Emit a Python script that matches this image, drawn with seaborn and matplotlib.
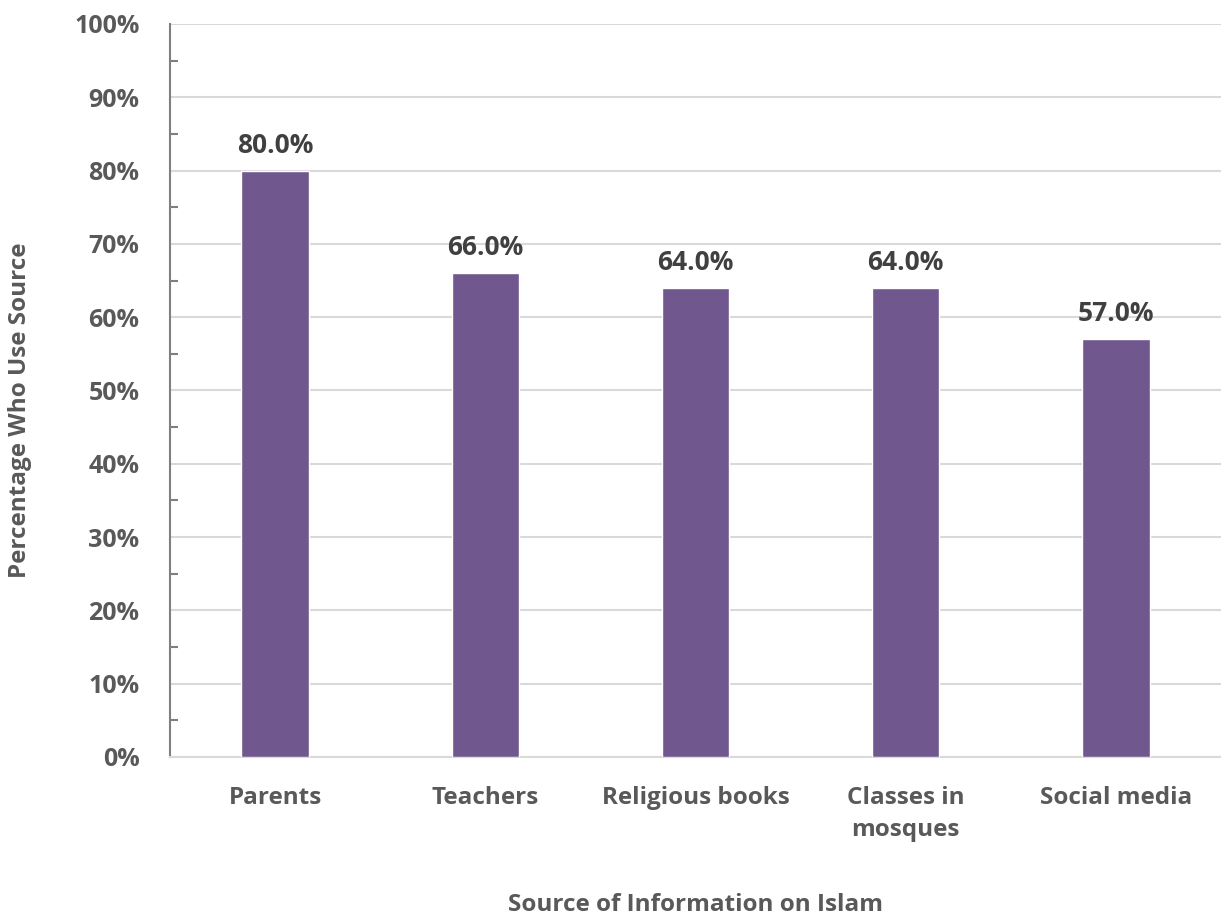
import matplotlib
matplotlib.use("Agg")
import matplotlib.pyplot as plt
import seaborn as sns
import pandas as pd
from matplotlib.ticker import MultipleLocator, FuncFormatter

categories = ["Parents", "Teachers", "Religious books", "Classes in\nmosques", "Social media"]
percentages = [80.0, 66.0, 64.0, 64.0, 57.0]

sns.set_theme(style="white")
plt.rcParams["font.family"] = ["Open Sans", "DejaVu Sans"]

df = pd.DataFrame({"source": categories, "pct": percentages})

fig = plt.figure(figsize=(12.21, 9.15), dpi=100)
ax = fig.add_axes([0.1392, 0.1727, 0.8608, 0.8011])

sns.barplot(data=df, x="source", y="pct", color="#70588E", width=0.32,
            saturation=1, ax=ax, zorder=3)

ax.set_ylim(0, 100)
ax.set_xlim(-0.5, len(categories) - 0.5)
ax.yaxis.set_major_locator(MultipleLocator(10))
ax.yaxis.set_minor_locator(MultipleLocator(5))
ax.yaxis.set_major_formatter(FuncFormatter(lambda v, _: f"{v:.0f}%"))
ax.grid(axis="y", which="major", color="#D9D9D9", linewidth=1.5, zorder=0)
ax.set_axisbelow(True)

for s in ["top", "right"]:
    ax.spines[s].set_visible(False)
ax.spines["left"].set_color("#7F7F7F")
ax.spines["left"].set_linewidth(1.5)
ax.spines["bottom"].set_color("#D9D9D9")
ax.spines["bottom"].set_linewidth(1.5)

ax.tick_params(axis="y", which="major", direction="in", length=9, width=1.5,
               color="#7F7F7F", labelsize=18, labelcolor="#595959", pad=22)
ax.tick_params(axis="y", which="minor", direction="in", length=6, width=1.5,
               color="#7F7F7F", left=True)
ax.tick_params(axis="x", length=0, labelsize=17.5, labelcolor="#595959", pad=21)
for lbl in ax.get_xticklabels() + ax.get_yticklabels():
    lbl.set_fontweight("bold")
for lbl in ax.get_xticklabels():
    lbl.set_linespacing(1.45)

for i, v in enumerate(percentages):
    ax.annotate(f"{v:.1f}%", (i, v), xytext=(0, 13), textcoords="offset points",
                ha="center", va="baseline", fontsize=19, fontweight="bold",
                color="#404040")

ax.set_xlabel("")
ax.set_ylabel("")
fig.text(695 / 1221, 1 - 905 / 915, "Source of Information on Islam",
         ha="center", va="center", fontsize=17.5, fontweight="bold", color="#595959")
fig.text(20 / 1221, 1 - 410 / 915, "Percentage Who Use Source", rotation=90,
         ha="center", va="center", fontsize=17.5, fontweight="bold", color="#595959")

fig.savefig("out.png", dpi=100)
